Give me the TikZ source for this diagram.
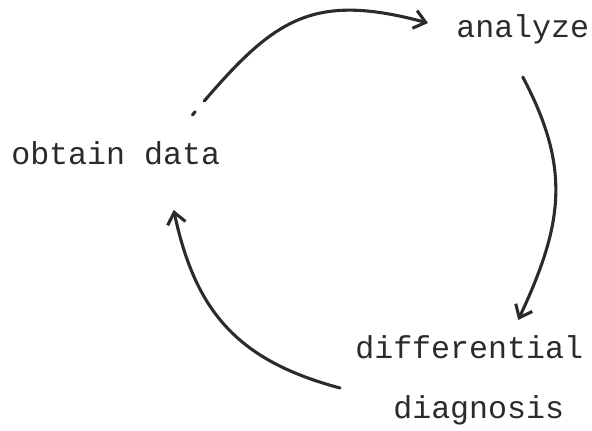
\documentclass[tikz,border=0pt]{standalone}
\usepackage{fontspec}
\setmonofont{Liberation Mono}
\usepackage{tikz}
\usetikzlibrary{arrows.meta}
\definecolor{InkGray}{HTML}{2B2B2B}
\begin{document}
\begin{tikzpicture}[
  x=0.025cm, y=0.025cm,
  lbl/.style={font=\ttfamily\fontsize{22.5}{27}\selectfont, text=InkGray,
              inner sep=0pt, anchor=base west},
  cyc/.style={draw=InkGray, line width=2.2pt, line cap=round,
              -{Straight Barb[length=8pt,width=13pt,line width=2.2pt]}},
]
\useasboundingbox (0,0) rectangle (592,430);
\node[lbl] (obtain)  at (11,266)  {obtain data};
\node[lbl] (analyze) at (456,393) {analyze};
\node[lbl] (diff)    at (355,72)  {differential};
\node[lbl] (diag)    at (393,12)  {diagnosis};

\draw[cyc, dash pattern={on 3pt off 10pt on 500pt}]
  ([shift={(-28,49)}]obtain.base east) to[out=50,in=165,looseness=1.25]
  ([shift={(-28,14)}]analyze.base west);
\draw[cyc] ([shift={(0,-40)}]analyze.base) to[out=-62,in=65,looseness=1.1]
  ([shift={(49,38)}]diff.base);
\draw[cyc] ([shift={(-53,30)}]diag.base west) to[out=165,in=-78,looseness=1.1]
  ([shift={(58,-46)}]obtain.base);
\end{tikzpicture}
\end{document}
